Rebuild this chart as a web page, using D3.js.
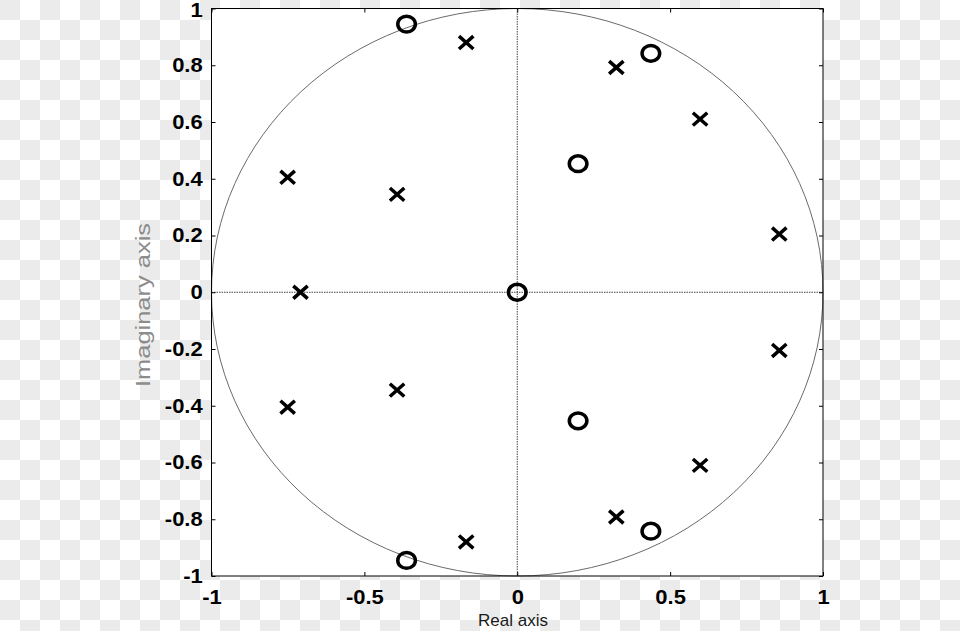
<!DOCTYPE html>
<html><head><meta charset="utf-8">
<script src="https://cdn.jsdelivr.net/npm/d3@7"></script>
<style>html,body{margin:0;padding:0;background:#fff;}svg{display:block;}</style>
</head><body>
<svg id="chart" width="960" height="631"></svg>
<script>
// Data
const poleRe = [-0.167, 0.324, 0.598, 0.857, -0.751, -0.393, -0.709, -0.751, -0.393, -0.167, 0.324, 0.598, 0.857];
const poleIm = [0.880, 0.792, 0.610, 0.205, 0.405, 0.345, 0.000, -0.405, -0.345, -0.880, -0.792, -0.610, -0.205];
const zeroRe = [-0.362, 0.437, 0.199, 0.000, 0.199, 0.437, -0.362];
const zeroIm = [0.945, 0.842, 0.453, 0.000, -0.453, -0.842, -0.945];
const xTicks = [-1, -0.5, 0, 0.5, 1];
const yTicks = [-1, -0.8, -0.6, -0.4, -0.2, 0, 0.2, 0.4, 0.6, 0.8, 1];
const xLabel = "Real axis";
const yLabel = "Imaginary axis";

const svg = d3.select("#chart");
const defs = svg.append("defs");
const pat = defs.append("pattern").attr("id","checker").attr("width",40).attr("height",40)
  .attr("patternUnits","userSpaceOnUse");
pat.append("rect").attr("width",40).attr("height",40).attr("fill","#ffffff");
pat.append("rect").attr("x",0).attr("y",0).attr("width",20).attr("height",20).attr("fill","#ebebeb");
pat.append("rect").attr("x",20).attr("y",20).attr("width",20).attr("height",20).attr("fill","#ebebeb");
svg.append("rect").attr("width",960).attr("height",631).attr("fill","url(#checker)");

const x = d3.scaleLinear().domain([-1,1]).range([211.5, 823]);
const y = d3.scaleLinear().domain([-1,1]).range([576, 8.5]);

// plot area
svg.append("rect").attr("x",x(-1)).attr("y",y(1)).attr("width",x(1)-x(-1)).attr("height",y(-1)-y(1))
  .attr("fill","#fff");

// zero lines (dotted)
svg.append("line").attr("x1",x(-1)).attr("x2",x(1)).attr("y1",y(0)).attr("y2",y(0))
  .attr("stroke","#444").attr("stroke-width",1).attr("stroke-dasharray","1.5,1");
svg.append("line").attr("x1",x(0)).attr("x2",x(0)).attr("y1",y(1)).attr("y2",y(-1))
  .attr("stroke","#444").attr("stroke-width",1).attr("stroke-dasharray","1.5,1");

// unit circle
svg.append("ellipse").attr("cx",x(0)).attr("cy",y(0)).attr("rx",x(1)-x(0)).attr("ry",y(0)-y(1))
  .attr("fill","none").attr("stroke","#6a6a6a").attr("stroke-width",1);

// axes
const gL = svg.append("g").attr("transform",`translate(${x(-1)},0)`)
  .call(d3.axisLeft(y).tickValues(yTicks).tickSize(-4).tickPadding(8).tickFormat(d => String(d)));
const gR = svg.append("g").attr("transform",`translate(${x(1)},0)`)
  .call(d3.axisRight(y).tickValues(yTicks).tickSize(-4).tickFormat(""));
const gB = svg.append("g").attr("transform",`translate(0,${y(-1)})`)
  .call(d3.axisBottom(x).tickValues(xTicks).tickSize(-4).tickPadding(14).tickFormat(d => String(d)));
const gT = svg.append("g").attr("transform",`translate(0,${y(1)})`)
  .call(d3.axisTop(x).tickValues(xTicks).tickSize(-4).tickFormat(""));
[gL,gR,gB,gT].forEach(g => {
  g.select(".domain").remove();
  g.selectAll(".tick line").attr("stroke","#000").attr("stroke-width",1);
  g.selectAll(".tick text").attr("fill","#000")
    .attr("font-family","'Liberation Sans', Arial, sans-serif")
    .attr("font-weight","bold").attr("font-size",20);
});
gL.selectAll(".tick text").attr("transform","scale(1.1,1)");
gL.selectAll(".tick").filter(d => d === 1).select("text").attr("dy","0.42em");
gB.selectAll(".tick text").attr("transform","scale(1.1,1)");

// box
svg.append("rect").attr("x",x(-1)).attr("y",y(1)).attr("width",x(1)-x(-1)).attr("height",y(-1)-y(1))
  .attr("fill","none").attr("stroke","#000").attr("stroke-width",1);

// zeros
svg.append("g").selectAll("ellipse").data(zeroRe.map((r,i)=>[r,zeroIm[i]])).join("ellipse")
  .attr("cx",d=>x(d[0])).attr("cy",d=>y(d[1])).attr("rx",8.8).attr("ry",7.9)
  .attr("fill","none").attr("stroke","#000").attr("stroke-width",3.5);

// poles
svg.append("g").selectAll("path").data(poleRe.map((r,i)=>[r,poleIm[i]])).join("path")
  .attr("d", d => {
    const cx = x(d[0]), cy = y(d[1]), a = 7.2, b = 6.4;
    return `M${cx-a},${cy-b}L${cx+a},${cy+b}M${cx-a},${cy+b}L${cx+a},${cy-b}`;
  })
  .attr("stroke","#000").attr("stroke-width",3.5).attr("fill","none");

// axis labels
svg.append("text").attr("x",513).attr("y",626).attr("text-anchor","middle")
  .attr("font-family","'Liberation Sans', Arial, sans-serif").attr("font-size",17)
  .attr("fill","#1a1a1a").text(xLabel);
svg.append("text").attr("transform","translate(150,305) rotate(-90)").attr("text-anchor","middle")
  .attr("font-family","'Liberation Sans', Arial, sans-serif").attr("font-size",20)
  .attr("textLength",164).attr("lengthAdjust","spacingAndGlyphs")
  .attr("fill","#8c8c8c").text(yLabel);
</script>
</body></html>
